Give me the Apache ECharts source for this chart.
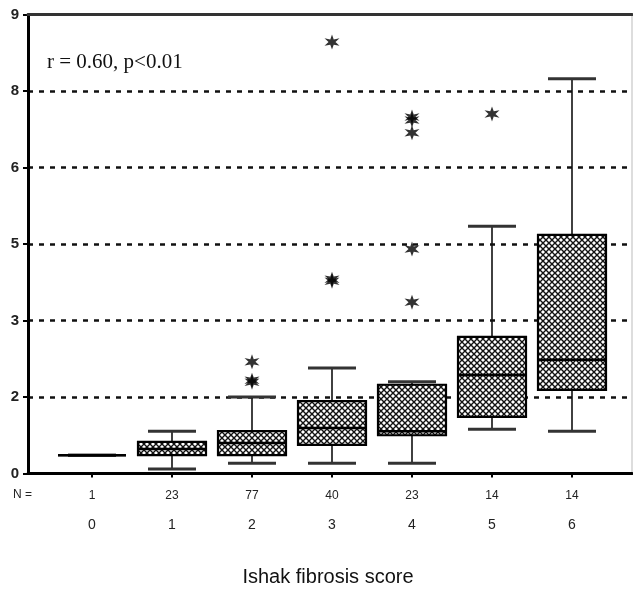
<!DOCTYPE html>
<html lang="en">
<head>
    <meta charset="UTF-8">
    <title>Ishak fibrosis score boxplot</title>
    <style>
        html, body { margin: 0; padding: 0; background: #fff; }
    </style>
</head>
<body>
<div id="box" style="width: 633px;height: 592px;"></div>
<script src="https://cdn.jsdelivr.net/npm/echarts@6/dist/echarts.min.js"></script>
<script type="text/javascript">
    // categories and counts
    let scores = [0, 1, 2, 3, 4, 5, 6];
    let nCounts = [1, 23, 77, 40, 23, 14, 14];
    // box statistics per score: [lower, q1, median, q3, upper]
    let lowerW = [0.36, 0.09, 0.20, 0.20, 0.20, 0.87, 0.83];
    let q1 = [0.36, 0.36, 0.36, 0.56, 0.75, 1.11, 1.64];
    let median = [0.36, 0.48, 0.60, 0.89, 0.83, 1.93, 2.23];
    let q3 = [0.36, 0.62, 0.83, 1.42, 1.74, 2.68, 4.68];
    let upperW = [0.36, 0.83, 1.50, 2.07, 1.80, 4.85, 7.74];
    // outliers [score, value]
    let outliers = [
        [2, 1.79], [2, 1.83], [2, 2.19],
        [3, 3.77], [3, 3.81], [3, 8.46],
        [4, 3.36], [4, 4.40], [4, 6.68], [4, 6.93], [4, 6.99],
        [5, 7.05]
    ];
    // y tick values (labels are rounded like the original)
    let yTicks = [0, 1.5, 3, 4.5, 6, 7.5, 9];

    window.onload = function () {
        let chart = echarts.init(document.getElementById('box'));

        // cross hatch fill
        let pc = document.createElement('canvas');
        pc.width = 6; pc.height = 6;
        let ctx = pc.getContext('2d');
        ctx.fillStyle = '#fff';
        ctx.fillRect(0, 0, 6, 6);
        ctx.strokeStyle = '#111';
        ctx.lineWidth = 1.4;
        ctx.beginPath();
        ctx.moveTo(-1, -1); ctx.lineTo(7, 7);
        ctx.moveTo(7, -1); ctx.lineTo(-1, 7);
        ctx.stroke();
        let hatch = {image: pc, repeat: 'repeat'};

        // asterisk symbol
        let pts = [];
        for (let i = 0; i < 12; i++) {
            let a = (i * 30 - 90) * Math.PI / 180;
            let r = i % 2 === 0 ? 10 : 4;
            pts.push((10 + r * Math.cos(a)).toFixed(2) + ',' + (10 + r * Math.sin(a)).toFixed(2));
        }
        let starPath = 'path://M' + pts.join('L') + 'Z';

        let boxData = scores.map((s, i) => [s, lowerW[i], q1[i], median[i], q3[i], upperW[i]]);

        let option = {
            animation: false,
            grid: {
                left: 28, right: 1, top: 14.5, bottom: 118.5,
                show: true, borderColor: '#bbb', borderWidth: 1
            },
            xAxis: [
                {
                    type: 'value', min: -0.8, max: 6.75,
                    axisLine: {onZero: false, lineStyle: {color: '#000', width: 3}},
                    axisTick: {show: true, customValues: scores, length: 4, lineStyle: {color: '#000', width: 2}},
                    axisLabel: {
                        customValues: scores, margin: 16,
                        fontFamily: 'Liberation Sans', fontSize: 12, color: '#222',
                        formatter: v => String(nCounts[v])
                    },
                    splitLine: {show: false}
                },
                {
                    type: 'value', min: -0.8, max: 6.75, position: 'bottom',
                    axisLine: {show: false, onZero: false}, axisTick: {show: false},
                    axisLabel: {
                        customValues: scores, margin: 45,
                        fontFamily: 'Liberation Sans', fontSize: 14, color: '#222',
                        formatter: v => String(v)
                    },
                    splitLine: {show: false}
                },
                {
                    type: 'value', min: -0.8, max: 6.75, position: 'top', z: 10,
                    axisLine: {onZero: false, lineStyle: {color: '#333', width: 3}},
                    axisTick: {show: false}, axisLabel: {show: false}, splitLine: {show: false}
                }
            ],
            yAxis: {
                type: 'value', min: 0, max: 9, interval: 1.5,
                axisLine: {show: true, onZero: false, lineStyle: {color: '#000', width: 3}},
                axisTick: {show: true, length: 5, lineStyle: {color: '#000', width: 2}},
                axisLabel: {
                    margin: 9, fontFamily: 'Liberation Sans', fontSize: 15, fontWeight: 'bold', color: '#222',
                    formatter: v => String(Math.round(v))
                },
                splitLine: {
                    show: true,
                    lineStyle: {color: '#111', width: 2.5, type: [5, 6]}
                }
            },
            series: [
                {
                    type: 'custom',
                    xAxisIndex: 0,
                    data: boxData,
                    z: 5,
                    renderItem: function (params, api) {
                        let x = api.value(0);
                        let lo = api.coord([x, api.value(1)]);
                        let b1 = api.coord([x - 0.425, api.value(2)]);
                        let md = api.value(3);
                        let b3 = api.coord([x + 0.425, api.value(4)]);
                        let hi = api.coord([x, api.value(5)]);
                        let mL = api.coord([x - 0.425, md]);
                        let mR = api.coord([x + 0.425, md]);
                        let cL = api.coord([x - 0.3, 0])[0];
                        let cR = api.coord([x + 0.3, 0])[0];
                        let children = [
                            {type: 'line', shape: {x1: lo[0], y1: lo[1], x2: hi[0], y2: hi[1]},
                                style: {stroke: '#111', lineWidth: 1.6}},
                            {type: 'line', shape: {x1: cL, y1: lo[1], x2: cR, y2: lo[1]},
                                style: {stroke: '#333', lineWidth: 3}},
                            {type: 'line', shape: {x1: cL, y1: hi[1], x2: cR, y2: hi[1]},
                                style: {stroke: '#333', lineWidth: 3}},
                            {type: 'rect', shape: {x: b1[0], y: b3[1], width: b3[0] - b1[0], height: b1[1] - b3[1]},
                                style: {fill: hatch, stroke: '#000', lineWidth: 2.2}},
                            {type: 'line', shape: {x1: mL[0], y1: mL[1], x2: mR[0], y2: mR[1]},
                                style: {stroke: '#000', lineWidth: 2.5}}
                        ];
                        return {type: 'group', children: children};
                    }
                },
                {
                    type: 'scatter',
                    xAxisIndex: 0,
                    data: outliers,
                    symbol: starPath,
                    symbolSize: 15,
                    z: 6,
                    itemStyle: {color: '#000'}
                }
            ],
            graphic: [
                {
                    type: 'text', left: 47, top: 52,
                    style: {text: 'r = 0.60, p<0.01', font: '21px "Liberation Serif"', fill: '#111'}
                },
                {
                    type: 'text', left: 13, top: 489,
                    style: {text: 'N =', font: '12px "Liberation Sans"', fill: '#222'}
                },
                {
                    type: 'text', x: 328, y: 567,
                    style: {text: 'Ishak fibrosis score', textAlign: 'center', font: '20px "Liberation Sans"', fill: '#111'}
                }
            ]
        };
        chart.setOption(option);
    }
</script>
</body>
</html>
